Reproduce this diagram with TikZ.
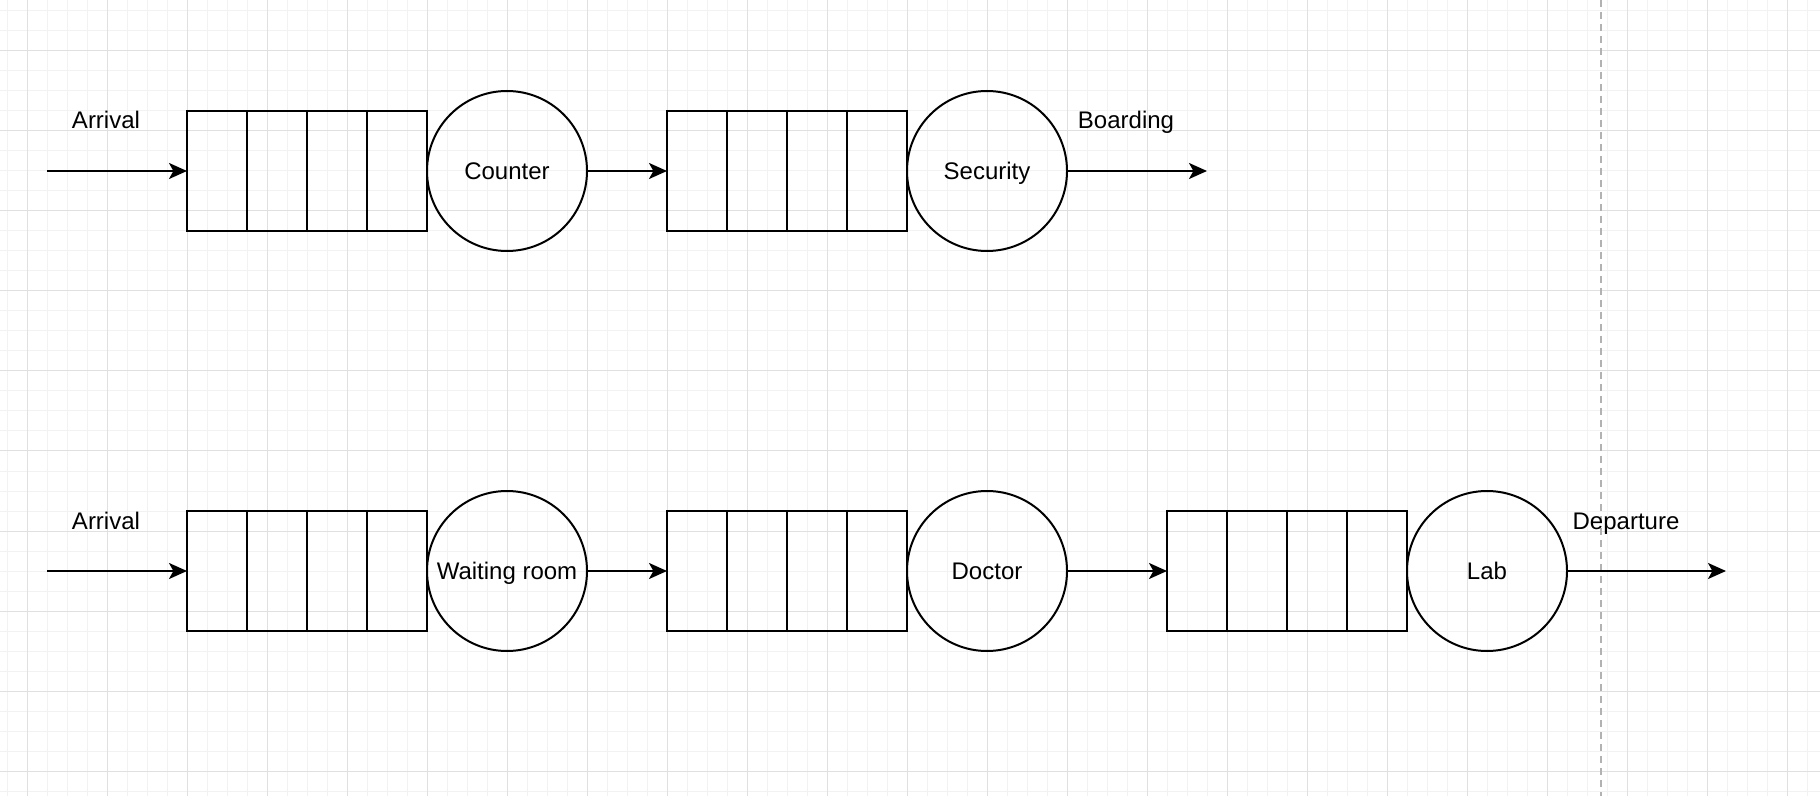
\documentclass[tikz,border=0pt]{standalone}
\usepackage{fontspec}
\setmainfont{Liberation Sans}
\usetikzlibrary{arrows.meta,calc}

\begin{document}
\begin{tikzpicture}[x=0.5pt,y=-0.5pt]
\tikzset{
  queuebox/.style={rectangle,draw=black,line width=1pt,minimum width=120pt,minimum height=60pt,inner sep=0pt,outer sep=0pt,
    path picture={\foreach \k in {1,2,3}{\draw[line width=1pt] ($(path picture bounding box.north west)!\k/4!(path picture bounding box.north east)$) -- ($(path picture bounding box.south west)!\k/4!(path picture bounding box.south east)$);}}},
  servernode/.style={circle,draw=black,line width=1pt,minimum size=80pt,inner sep=0pt,outer sep=0pt,text height=8.8pt,text depth=0pt,font=\fontsize{12pt}{14pt}\selectfont},
  flowedge/.style={draw=black,line width=1pt,-{Stealth[length=9pt,width=8pt,inset=2.2pt]}},
  flowlabel/.style={font=\fontsize{12pt}{14pt}\selectfont,inner sep=0pt,anchor=base},
  gridminor/.style={draw=black!5,line width=0.5pt},
  gridmajor/.style={draw=black!12,line width=0.5pt},
  pagebreak/.style={draw=black!30,line width=1pt,dash pattern=on 3.5pt off 2.5pt}
}
\fill[white] (0,0) rectangle (1820,796);
\useasboundingbox (0,0) rectangle (1820,796);
% background grid
\foreach \gx in {7,27,...,1827} \draw[gridminor] (\gx,0) -- (\gx,796);
\foreach \gy in {11,31,...,791} \draw[gridminor] (0,\gy) -- (1820,\gy);
\foreach \gx in {27,107,...,1787} \draw[gridmajor] (\gx,0) -- (\gx,796);
\foreach \gy in {51,131,...,771} \draw[gridmajor] (0,\gy) -- (1820,\gy);
\coordinate (pb_top) at (1601,0);
\coordinate (pb_bot) at (1601,796);
\draw[pagebreak] (pb_top) -- (pb_bot);

% airport
\node[queuebox] (n_qcounter) at (307,171) {};
\node[servernode] (n_counter) at (507,171) {Counter};
\node[queuebox] (n_qsecurity) at (787,171) {};
\node[servernode] (n_security) at (987,171) {Security};
\coordinate (in1) at (47,171);
\coordinate (out1) at (1207,171);
\node[flowlabel] (l_arrival1) at (106,129) {Arrival};
\node[flowlabel] (l_boarding) at (1126,129) {Boarding};
\draw[flowedge] (in1) -- (n_qcounter);
\draw[flowedge] (n_counter) -- (n_qsecurity);
\draw[flowedge] (n_security) -- (out1);

% clinic
\node[queuebox] (n_qwaiting) at (307,571) {};
\node[servernode] (n_waiting) at (507,571) {Waiting room};
\node[queuebox] (n_qdoctor) at (787,571) {};
\node[servernode] (n_doctor) at (987,571) {Doctor};
\node[queuebox] (n_qlab) at (1287,571) {};
\node[servernode] (n_lab) at (1487,571) {Lab};
\coordinate (in2) at (47,571);
\coordinate (out2) at (1726,571);
\node[flowlabel] (l_arrival2) at (106,529) {Arrival};
\node[flowlabel] (l_departure) at (1626,529) {Departure};
\draw[flowedge] (in2) -- (n_qwaiting);
\draw[flowedge] (n_waiting) -- (n_qdoctor);
\draw[flowedge] (n_doctor) -- (n_qlab);
\draw[flowedge] (n_lab) -- (out2);
\end{tikzpicture}
\end{document}
